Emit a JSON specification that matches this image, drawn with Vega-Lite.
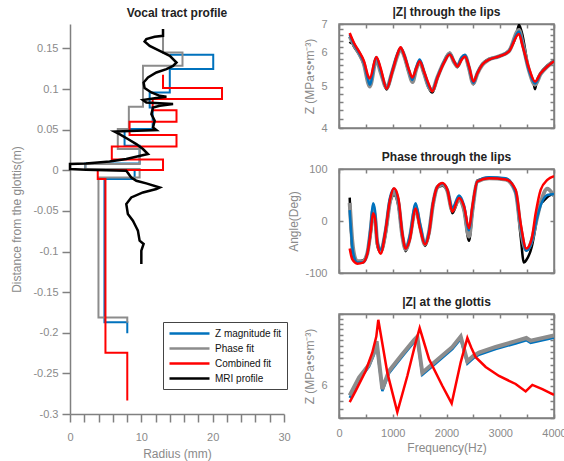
{
  "$schema": "https://vega.github.io/schema/vega-lite/v6.json",
  "padding": {"left": 10, "top": 5, "right": 5, "bottom": 5},
  "background": "white",
  "config": {
    "font": "Liberation Sans",
    "view": {"stroke": null},
    "axis": {"labelFont": "Liberation Sans", "labelFontSize": 11, "labelColor": "#8a8a8a", "titleFont": "Liberation Sans", "titleFontSize": 12, "titleFontWeight": "normal", "titleColor": "#8a8a8a", "domainColor": "#808080", "domainWidth": 1.5, "tickColor": "#808080", "tickWidth": 1.5, "grid": false, "labelOverlap": false, "labelFlush": false},
    "title": {"font": "Liberation Sans", "fontSize": 12, "fontWeight": "bold", "color": "#222222", "offset": 4}
  },
  "datasets": {
    "profile": [
      {"s":"Z magnitude fit","i":0,"r":13.99,"d":0.1421},{"s":"Z magnitude fit","i":1,"r":20.08,"d":0.1421},{"s":"Z magnitude fit","i":2,"r":20.08,"d":0.1245},{"s":"Z magnitude fit","i":3,"r":13.99,"d":0.1245},{"s":"Z magnitude fit","i":4,"r":13.99,"d":0.0957},{"s":"Z magnitude fit","i":5,"r":11.17,"d":0.0957},{"s":"Z magnitude fit","i":6,"r":11.17,"d":0.0772},{"s":"Z magnitude fit","i":7,"r":11.59,"d":0.0772},{"s":"Z magnitude fit","i":8,"r":11.59,"d":0.0507},{"s":"Z magnitude fit","i":9,"r":7.65,"d":0.0507},{"s":"Z magnitude fit","i":10,"r":7.65,"d":0.0301},{"s":"Z magnitude fit","i":11,"r":9.76,"d":0.0301},{"s":"Z magnitude fit","i":12,"r":9.76,"d":0.0084},{"s":"Z magnitude fit","i":13,"r":2.15,"d":0.0084},{"s":"Z magnitude fit","i":14,"r":2.15,"d":0.0015},{"s":"Z magnitude fit","i":15,"r":9.06,"d":0.0015},{"s":"Z magnitude fit","i":16,"r":9.06,"d":-0.0108},{"s":"Z magnitude fit","i":17,"r":4.83,"d":-0.0108},{"s":"Z magnitude fit","i":18,"r":4.83,"d":-0.1872},{"s":"Z magnitude fit","i":19,"r":8.03,"d":-0.1872},{"s":"Z magnitude fit","i":20,"r":8.03,"d":-0.2007},
      {"s":"Phase fit","i":0,"r":13.04,"d":0.1728},{"s":"Phase fit","i":1,"r":13.04,"d":0.1449},{"s":"Phase fit","i":2,"r":15.77,"d":0.1449},{"s":"Phase fit","i":3,"r":15.77,"d":0.1285},{"s":"Phase fit","i":4,"r":10.23,"d":0.1285},{"s":"Phase fit","i":5,"r":10.23,"d":0.0781},{"s":"Phase fit","i":6,"r":8.25,"d":0.0781},{"s":"Phase fit","i":7,"r":8.25,"d":0.0507},{"s":"Phase fit","i":8,"r":6.7,"d":0.0507},{"s":"Phase fit","i":9,"r":6.7,"d":0.0261},{"s":"Phase fit","i":10,"r":9.76,"d":0.0261},{"s":"Phase fit","i":11,"r":9.76,"d":0.0076},{"s":"Phase fit","i":12,"r":2.15,"d":0.0076},{"s":"Phase fit","i":13,"r":2.15,"d":0.0015},{"s":"Phase fit","i":14,"r":9.76,"d":0.0015},{"s":"Phase fit","i":15,"r":9.76,"d":-0.0089},{"s":"Phase fit","i":16,"r":3.99,"d":-0.0089},{"s":"Phase fit","i":17,"r":3.99,"d":-0.1811},{"s":"Phase fit","i":18,"r":8.03,"d":-0.1811},{"s":"Phase fit","i":19,"r":8.03,"d":-0.1876},
      {"s":"Combined fit","i":0,"r":13.04,"d":0.1175},{"s":"Combined fit","i":1,"r":13.04,"d":0.1011},{"s":"Combined fit","i":2,"r":21.31,"d":0.1011},{"s":"Combined fit","i":3,"r":21.31,"d":0.0876},{"s":"Combined fit","i":4,"r":11.59,"d":0.0876},{"s":"Combined fit","i":5,"r":11.59,"d":0.074},{"s":"Combined fit","i":6,"r":14.93,"d":0.074},{"s":"Combined fit","i":7,"r":14.93,"d":0.0597},{"s":"Combined fit","i":8,"r":8.35,"d":0.0597},{"s":"Combined fit","i":9,"r":8.35,"d":0.0433},{"s":"Combined fit","i":10,"r":14.93,"d":0.0433},{"s":"Combined fit","i":11,"r":14.93,"d":0.0293},{"s":"Combined fit","i":12,"r":5.86,"d":0.0293},{"s":"Combined fit","i":13,"r":5.86,"d":0.0133},{"s":"Combined fit","i":14,"r":13.04,"d":0.0133},{"s":"Combined fit","i":15,"r":13.04,"d":0.0002},{"s":"Combined fit","i":16,"r":3.89,"d":0.0002},{"s":"Combined fit","i":17,"r":3.89,"d":-0.0108},{"s":"Combined fit","i":18,"r":4.97,"d":-0.0108},{"s":"Combined fit","i":19,"r":4.97,"d":-0.2245},{"s":"Combined fit","i":20,"r":8.03,"d":-0.2245},{"s":"Combined fit","i":21,"r":8.03,"d":-0.2835},
      {"s":"MRI profile","i":0,"r":13.04,"d":0.1737},{"s":"MRI profile","i":1,"r":13.04,"d":0.1654},{"s":"MRI profile","i":2,"r":11.87,"d":0.1642},{"s":"MRI profile","i":3,"r":10.7,"d":0.1614},{"s":"MRI profile","i":4,"r":10.46,"d":0.1584},{"s":"MRI profile","i":5,"r":11.17,"d":0.1531},{"s":"MRI profile","i":6,"r":12.58,"d":0.147},{"s":"MRI profile","i":7,"r":13.99,"d":0.1408},{"s":"MRI profile","i":8,"r":14.93,"d":0.1326},{"s":"MRI profile","i":9,"r":14.45,"d":0.1285},{"s":"MRI profile","i":10,"r":13.52,"d":0.1245},{"s":"MRI profile","i":11,"r":12.11,"d":0.1203},{"s":"MRI profile","i":12,"r":10.93,"d":0.1141},{"s":"MRI profile","i":13,"r":10.32,"d":0.108},{"s":"MRI profile","i":14,"r":10.46,"d":0.1011},{"s":"MRI profile","i":15,"r":11.41,"d":0.0957},{"s":"MRI profile","i":16,"r":12.58,"d":0.0916},{"s":"MRI profile","i":17,"r":13.52,"d":0.0904},{"s":"MRI profile","i":18,"r":12.11,"d":0.0888},{"s":"MRI profile","i":19,"r":10.23,"d":0.0863},{"s":"MRI profile","i":20,"r":10.7,"d":0.0834},{"s":"MRI profile","i":21,"r":14.45,"d":0.0814},{"s":"MRI profile","i":22,"r":12.58,"d":0.0793},{"s":"MRI profile","i":23,"r":11.64,"d":0.0772},{"s":"MRI profile","i":24,"r":11.41,"d":0.0691},{"s":"MRI profile","i":25,"r":11.87,"d":0.0609},{"s":"MRI profile","i":26,"r":11.64,"d":0.0526},{"s":"MRI profile","i":27,"r":12.11,"d":0.0494},{"s":"MRI profile","i":28,"r":6.24,"d":0.0477},{"s":"MRI profile","i":29,"r":6.94,"d":0.0445},{"s":"MRI profile","i":30,"r":8.11,"d":0.0384},{"s":"MRI profile","i":31,"r":9.3,"d":0.0322},{"s":"MRI profile","i":32,"r":10.23,"d":0.0261},{"s":"MRI profile","i":33,"r":10.93,"d":0.0199},{"s":"MRI profile","i":34,"r":7.89,"d":0.0138},{"s":"MRI profile","i":35,"r":5.54,"d":0.0108},{"s":"MRI profile","i":36,"r":2.25,"d":0.0084},{"s":"MRI profile","i":37,"r":0.0,"d":0.0076},{"s":"MRI profile","i":38,"r":0.0,"d":0.0015},{"s":"MRI profile","i":39,"r":2.25,"d":0.0006},{"s":"MRI profile","i":40,"r":7.89,"d":-0.0006},{"s":"MRI profile","i":41,"r":8.59,"d":-0.0089},{"s":"MRI profile","i":42,"r":9.3,"d":-0.0129},{"s":"MRI profile","i":43,"r":10.7,"d":-0.0162},{"s":"MRI profile","i":44,"r":12.58,"d":-0.0212},{"s":"MRI profile","i":45,"r":12.11,"d":-0.0231},{"s":"MRI profile","i":46,"r":10.23,"d":-0.0273},{"s":"MRI profile","i":47,"r":8.59,"d":-0.0335},{"s":"MRI profile","i":48,"r":7.89,"d":-0.0416},{"s":"MRI profile","i":49,"r":8.11,"d":-0.0539},{"s":"MRI profile","i":50,"r":8.82,"d":-0.0621},{"s":"MRI profile","i":51,"r":9.3,"d":-0.0704},{"s":"MRI profile","i":52,"r":9.52,"d":-0.0744},{"s":"MRI profile","i":53,"r":9.76,"d":-0.0867},{"s":"MRI profile","i":54,"r":10.32,"d":-0.0908},{"s":"MRI profile","i":55,"r":10.0,"d":-0.099},{"s":"MRI profile","i":56,"r":10.0,"d":-0.1154}
    ],
    "lips": [
      {"s":"C","f":199,"z":6.67},{"s":"C","f":279,"z":6.32},{"s":"C","f":372,"z":6.04},{"s":"C","f":465,"z":5.73},{"s":"C","f":546,"z":5.28},{"s":"C","f":571,"z":5.22},{"s":"C","f":695,"z":5.86},{"s":"C","f":775,"z":5.52},{"s":"C","f":887,"z":4.94},{"s":"C","f":992,"z":5.42},{"s":"C","f":1085,"z":5.94},{"s":"C","f":1147,"z":6.18},{"s":"C","f":1209,"z":5.94},{"s":"C","f":1302,"z":5.47},{"s":"C","f":1364,"z":5.25},{"s":"C","f":1439,"z":5.52},{"s":"C","f":1501,"z":5.73},{"s":"C","f":1581,"z":5.42},{"s":"C","f":1674,"z":5.05},{"s":"C","f":1736,"z":4.87},{"s":"C","f":1829,"z":5.23},{"s":"C","f":1953,"z":5.68},{"s":"C","f":2059,"z":5.94},{"s":"C","f":2140,"z":5.73},{"s":"C","f":2202,"z":5.57},{"s":"C","f":2282,"z":5.78},{"s":"C","f":2344,"z":5.88},{"s":"C","f":2419,"z":5.57},{"s":"C","f":2499,"z":5.14},{"s":"C","f":2574,"z":5.37},{"s":"C","f":2667,"z":5.63},{"s":"C","f":2791,"z":5.78},{"s":"C","f":2977,"z":5.88},{"s":"C","f":3163,"z":6.04},{"s":"C","f":3349,"z":6.63},{"s":"C","f":3411,"z":6.25},{"s":"C","f":3535,"z":5.52},{"s":"C","f":3647,"z":5.14},{"s":"C","f":3752,"z":5.37},{"s":"C","f":3876,"z":5.57},{"s":"C","f":4000,"z":5.73},
      {"s":"Z","f":199,"z":6.62},{"s":"Z","f":279,"z":6.28},{"s":"Z","f":372,"z":6.0},{"s":"Z","f":465,"z":5.68},{"s":"Z","f":546,"z":5.15},{"s":"Z","f":571,"z":5.05},{"s":"Z","f":695,"z":5.85},{"s":"Z","f":775,"z":5.45},{"s":"Z","f":887,"z":4.96},{"s":"Z","f":992,"z":5.45},{"s":"Z","f":1085,"z":5.95},{"s":"Z","f":1147,"z":6.16},{"s":"Z","f":1209,"z":5.95},{"s":"Z","f":1302,"z":5.45},{"s":"Z","f":1364,"z":5.18},{"s":"Z","f":1439,"z":5.55},{"s":"Z","f":1501,"z":5.78},{"s":"Z","f":1581,"z":5.42},{"s":"Z","f":1674,"z":5.0},{"s":"Z","f":1736,"z":4.9},{"s":"Z","f":1829,"z":5.25},{"s":"Z","f":1953,"z":5.7},{"s":"Z","f":2059,"z":5.96},{"s":"Z","f":2140,"z":5.72},{"s":"Z","f":2202,"z":5.6},{"s":"Z","f":2282,"z":5.85},{"s":"Z","f":2344,"z":5.93},{"s":"Z","f":2419,"z":5.55},{"s":"Z","f":2499,"z":5.1},{"s":"Z","f":2574,"z":5.38},{"s":"Z","f":2667,"z":5.63},{"s":"Z","f":2791,"z":5.78},{"s":"Z","f":2977,"z":5.88},{"s":"Z","f":3163,"z":6.05},{"s":"Z","f":3349,"z":6.72},{"s":"Z","f":3411,"z":6.3},{"s":"Z","f":3535,"z":5.45},{"s":"Z","f":3647,"z":5.08},{"s":"Z","f":3752,"z":5.36},{"s":"Z","f":3876,"z":5.57},{"s":"Z","f":4000,"z":5.73},
      {"s":"P","f":199,"z":6.55},{"s":"P","f":279,"z":6.25},{"s":"P","f":372,"z":5.98},{"s":"P","f":465,"z":5.64},{"s":"P","f":546,"z":5.08},{"s":"P","f":571,"z":5.0},{"s":"P","f":695,"z":5.78},{"s":"P","f":775,"z":5.4},{"s":"P","f":887,"z":4.97},{"s":"P","f":992,"z":5.42},{"s":"P","f":1085,"z":5.9},{"s":"P","f":1147,"z":6.13},{"s":"P","f":1209,"z":5.92},{"s":"P","f":1302,"z":5.4},{"s":"P","f":1364,"z":5.12},{"s":"P","f":1439,"z":5.5},{"s":"P","f":1501,"z":5.72},{"s":"P","f":1581,"z":5.38},{"s":"P","f":1674,"z":4.98},{"s":"P","f":1736,"z":4.9},{"s":"P","f":1829,"z":5.25},{"s":"P","f":1953,"z":5.7},{"s":"P","f":2059,"z":5.97},{"s":"P","f":2140,"z":5.7},{"s":"P","f":2202,"z":5.58},{"s":"P","f":2282,"z":5.82},{"s":"P","f":2344,"z":5.9},{"s":"P","f":2419,"z":5.52},{"s":"P","f":2499,"z":5.08},{"s":"P","f":2574,"z":5.36},{"s":"P","f":2667,"z":5.62},{"s":"P","f":2791,"z":5.78},{"s":"P","f":2977,"z":5.88},{"s":"P","f":3163,"z":6.05},{"s":"P","f":3349,"z":6.78},{"s":"P","f":3411,"z":6.35},{"s":"P","f":3535,"z":5.45},{"s":"P","f":3647,"z":5.05},{"s":"P","f":3752,"z":5.35},{"s":"P","f":3876,"z":5.57},{"s":"P","f":4000,"z":5.73},
      {"s":"M","f":199,"z":6.3},{"s":"M","f":230,"z":6.35},{"s":"M","f":279,"z":6.2},{"s":"M","f":372,"z":5.95},{"s":"M","f":465,"z":5.62},{"s":"M","f":546,"z":5.1},{"s":"M","f":571,"z":5.02},{"s":"M","f":695,"z":5.8},{"s":"M","f":775,"z":5.42},{"s":"M","f":887,"z":4.92},{"s":"M","f":992,"z":5.4},{"s":"M","f":1085,"z":5.92},{"s":"M","f":1147,"z":6.12},{"s":"M","f":1209,"z":5.9},{"s":"M","f":1302,"z":5.38},{"s":"M","f":1364,"z":5.15},{"s":"M","f":1439,"z":5.5},{"s":"M","f":1501,"z":5.7},{"s":"M","f":1581,"z":5.36},{"s":"M","f":1674,"z":4.95},{"s":"M","f":1736,"z":4.84},{"s":"M","f":1829,"z":5.22},{"s":"M","f":1953,"z":5.72},{"s":"M","f":2059,"z":6.0},{"s":"M","f":2140,"z":5.72},{"s":"M","f":2202,"z":5.55},{"s":"M","f":2282,"z":5.8},{"s":"M","f":2344,"z":5.88},{"s":"M","f":2419,"z":5.5},{"s":"M","f":2499,"z":5.06},{"s":"M","f":2574,"z":5.38},{"s":"M","f":2667,"z":5.65},{"s":"M","f":2791,"z":5.8},{"s":"M","f":2977,"z":5.88},{"s":"M","f":3163,"z":6.08},{"s":"M","f":3300,"z":6.6},{"s":"M","f":3349,"z":6.97},{"s":"M","f":3400,"z":6.7},{"s":"M","f":3535,"z":5.45},{"s":"M","f":3620,"z":5.1},{"s":"M","f":3647,"z":4.93},{"s":"M","f":3680,"z":5.15},{"s":"M","f":3752,"z":5.38},{"s":"M","f":3876,"z":5.6},{"s":"M","f":4000,"z":5.75}
    ],
    "phase": [
      {"s":"C","f":199,"p":-53},{"s":"C","f":248,"p":-74},{"s":"C","f":341,"p":-82},{"s":"C","f":446,"p":-80},{"s":"C","f":527,"p":-63},{"s":"C","f":589,"p":-21},{"s":"C","f":633,"p":15},{"s":"C","f":670,"p":5},{"s":"C","f":713,"p":-43},{"s":"C","f":775,"p":-63},{"s":"C","f":868,"p":-17},{"s":"C","f":949,"p":41},{"s":"C","f":1023,"p":63},{"s":"C","f":1104,"p":44},{"s":"C","f":1178,"p":-24},{"s":"C","f":1240,"p":-53},{"s":"C","f":1315,"p":-37},{"s":"C","f":1426,"p":24},{"s":"C","f":1507,"p":-14},{"s":"C","f":1600,"p":-45},{"s":"C","f":1674,"p":-24},{"s":"C","f":1749,"p":34},{"s":"C","f":1829,"p":66},{"s":"C","f":1922,"p":73},{"s":"C","f":2016,"p":60},{"s":"C","f":2109,"p":18},{"s":"C","f":2233,"p":44},{"s":"C","f":2326,"p":28},{"s":"C","f":2419,"p":-14},{"s":"C","f":2481,"p":28},{"s":"C","f":2574,"p":76},{"s":"C","f":2791,"p":82},{"s":"C","f":3101,"p":80},{"s":"C","f":3287,"p":60},{"s":"C","f":3380,"p":-5},{"s":"C","f":3485,"p":-53},{"s":"C","f":3585,"p":-34},{"s":"C","f":3659,"p":15},{"s":"C","f":3752,"p":60},{"s":"C","f":3876,"p":79},{"s":"C","f":4000,"p":86},
      {"s":"Z","f":199,"p":21},{"s":"Z","f":248,"p":-50},{"s":"Z","f":300,"p":-75},{"s":"Z","f":341,"p":-80},{"s":"Z","f":446,"p":-80},{"s":"Z","f":527,"p":-62},{"s":"Z","f":589,"p":-10},{"s":"Z","f":633,"p":34},{"s":"Z","f":670,"p":20},{"s":"Z","f":713,"p":-40},{"s":"Z","f":775,"p":-55},{"s":"Z","f":868,"p":-15},{"s":"Z","f":949,"p":45},{"s":"Z","f":1023,"p":62},{"s":"Z","f":1104,"p":40},{"s":"Z","f":1178,"p":-25},{"s":"Z","f":1240,"p":-53},{"s":"Z","f":1315,"p":-30},{"s":"Z","f":1426,"p":34},{"s":"Z","f":1507,"p":-5},{"s":"Z","f":1600,"p":-43},{"s":"Z","f":1674,"p":-20},{"s":"Z","f":1749,"p":35},{"s":"Z","f":1829,"p":66},{"s":"Z","f":1922,"p":72},{"s":"Z","f":2016,"p":60},{"s":"Z","f":2109,"p":25},{"s":"Z","f":2233,"p":49},{"s":"Z","f":2326,"p":30},{"s":"Z","f":2419,"p":-18},{"s":"Z","f":2481,"p":25},{"s":"Z","f":2574,"p":76},{"s":"Z","f":2791,"p":84},{"s":"Z","f":3101,"p":82},{"s":"Z","f":3287,"p":55},{"s":"Z","f":3380,"p":-10},{"s":"Z","f":3485,"p":-57},{"s":"Z","f":3585,"p":-40},{"s":"Z","f":3659,"p":-5},{"s":"Z","f":3752,"p":30},{"s":"Z","f":3876,"p":50},{"s":"Z","f":4000,"p":52},
      {"s":"P","f":199,"p":35},{"s":"P","f":248,"p":-40},{"s":"P","f":300,"p":-72},{"s":"P","f":341,"p":-78},{"s":"P","f":446,"p":-78},{"s":"P","f":527,"p":-62},{"s":"P","f":589,"p":-18},{"s":"P","f":633,"p":20},{"s":"P","f":670,"p":8},{"s":"P","f":713,"p":-42},{"s":"P","f":775,"p":-58},{"s":"P","f":868,"p":-20},{"s":"P","f":949,"p":38},{"s":"P","f":1023,"p":55},{"s":"P","f":1104,"p":35},{"s":"P","f":1178,"p":-28},{"s":"P","f":1240,"p":-55},{"s":"P","f":1315,"p":-33},{"s":"P","f":1426,"p":25},{"s":"P","f":1507,"p":-10},{"s":"P","f":1600,"p":-45},{"s":"P","f":1674,"p":-22},{"s":"P","f":1749,"p":32},{"s":"P","f":1829,"p":65},{"s":"P","f":1922,"p":70},{"s":"P","f":2016,"p":58},{"s":"P","f":2109,"p":20},{"s":"P","f":2233,"p":42},{"s":"P","f":2326,"p":22},{"s":"P","f":2419,"p":-30},{"s":"P","f":2481,"p":20},{"s":"P","f":2574,"p":76},{"s":"P","f":2791,"p":82},{"s":"P","f":3101,"p":80},{"s":"P","f":3287,"p":55},{"s":"P","f":3380,"p":-15},{"s":"P","f":3485,"p":-56},{"s":"P","f":3585,"p":-38},{"s":"P","f":3659,"p":-5},{"s":"P","f":3752,"p":35},{"s":"P","f":3876,"p":62},{"s":"P","f":4000,"p":48},
      {"s":"M","f":199,"p":45},{"s":"M","f":225,"p":-20},{"s":"M","f":260,"p":-70},{"s":"M","f":341,"p":-77},{"s":"M","f":446,"p":-76},{"s":"M","f":527,"p":-62},{"s":"M","f":589,"p":-25},{"s":"M","f":633,"p":10},{"s":"M","f":670,"p":0},{"s":"M","f":713,"p":-48},{"s":"M","f":775,"p":-60},{"s":"M","f":868,"p":-25},{"s":"M","f":949,"p":35},{"s":"M","f":1023,"p":50},{"s":"M","f":1104,"p":30},{"s":"M","f":1178,"p":-30},{"s":"M","f":1240,"p":-58},{"s":"M","f":1315,"p":-35},{"s":"M","f":1426,"p":20},{"s":"M","f":1507,"p":-12},{"s":"M","f":1600,"p":-48},{"s":"M","f":1674,"p":-25},{"s":"M","f":1749,"p":30},{"s":"M","f":1829,"p":64},{"s":"M","f":1922,"p":68},{"s":"M","f":2016,"p":58},{"s":"M","f":2109,"p":15},{"s":"M","f":2233,"p":40},{"s":"M","f":2326,"p":20},{"s":"M","f":2419,"p":-38},{"s":"M","f":2481,"p":15},{"s":"M","f":2574,"p":78},{"s":"M","f":2791,"p":82},{"s":"M","f":3101,"p":80},{"s":"M","f":3287,"p":55},{"s":"M","f":3380,"p":-30},{"s":"M","f":3440,"p":-80},{"s":"M","f":3485,"p":-75},{"s":"M","f":3585,"p":-50},{"s":"M","f":3659,"p":-10},{"s":"M","f":3720,"p":30},{"s":"M","f":3800,"p":38},{"s":"M","f":3900,"p":48},{"s":"M","f":4000,"p":52}
    ],
    "glottis": [
      {"s":"C","f":199,"z":5.47},{"s":"C","f":310,"z":5.83},{"s":"C","f":496,"z":6.52},{"s":"C","f":620,"z":7.24},{"s":"C","f":694,"z":7.92},{"s":"C","f":731,"z":8.71},{"s":"C","f":899,"z":6.46},{"s":"C","f":1085,"z":5.17},{"s":"C","f":1271,"z":6.34},{"s":"C","f":1420,"z":7.6},{"s":"C","f":1501,"z":8.31},{"s":"C","f":1674,"z":6.98},{"s":"C","f":1922,"z":6.0},{"s":"C","f":2096,"z":5.43},{"s":"C","f":2264,"z":6.85},{"s":"C","f":2388,"z":7.86},{"s":"C","f":2460,"z":7.45},{"s":"C","f":2543,"z":7.05},{"s":"C","f":2729,"z":6.67},{"s":"C","f":2977,"z":6.34},{"s":"C","f":3287,"z":6.06},{"s":"C","f":3473,"z":5.81},{"s":"C","f":3597,"z":6.03},{"s":"C","f":3783,"z":5.89},{"s":"C","f":4000,"z":5.7},
      {"s":"P","f":199,"z":5.68},{"s":"P","f":372,"z":6.28},{"s":"P","f":558,"z":6.76},{"s":"P","f":651,"z":7.24},{"s":"P","f":700,"z":7.72},{"s":"P","f":806,"z":5.89},{"s":"P","f":930,"z":6.52},{"s":"P","f":1178,"z":7.17},{"s":"P","f":1395,"z":7.77},{"s":"P","f":1457,"z":7.92},{"s":"P","f":1550,"z":6.46},{"s":"P","f":1798,"z":6.89},{"s":"P","f":2109,"z":7.47},{"s":"P","f":2264,"z":7.92},{"s":"P","f":2388,"z":6.89},{"s":"P","f":2500,"z":7.1},{"s":"P","f":2605,"z":7.24},{"s":"P","f":2915,"z":7.47},{"s":"P","f":3287,"z":7.72},{"s":"P","f":3485,"z":7.86},{"s":"P","f":3566,"z":7.74},{"s":"P","f":4000,"z":7.97},
      {"s":"Z","f":199,"z":5.6},{"s":"Z","f":372,"z":6.2},{"s":"Z","f":558,"z":6.68},{"s":"Z","f":651,"z":7.15},{"s":"Z","f":700,"z":7.62},{"s":"Z","f":806,"z":5.82},{"s":"Z","f":930,"z":6.44},{"s":"Z","f":1178,"z":7.08},{"s":"Z","f":1395,"z":7.67},{"s":"Z","f":1457,"z":7.82},{"s":"Z","f":1550,"z":6.38},{"s":"Z","f":1798,"z":6.8},{"s":"Z","f":2109,"z":7.38},{"s":"Z","f":2264,"z":7.82},{"s":"Z","f":2388,"z":6.8},{"s":"Z","f":2500,"z":7.01},{"s":"Z","f":2605,"z":7.15},{"s":"Z","f":2915,"z":7.38},{"s":"Z","f":3287,"z":7.62},{"s":"Z","f":3485,"z":7.76},{"s":"Z","f":3566,"z":7.64},{"s":"Z","f":4000,"z":7.87}
    ]
  },
  "bounds": "flush",
  "spacing": 55,
  "hconcat": [
    {
      "title": "Vocal tract profile",
      "width": 214,
      "height": 390,
      "data": {"name": "profile"},
      "encoding": {
        "x": {"field": "r", "type": "quantitative", "scale": {"domain": [0, 30], "nice": false, "zero": false}, "axis": {"title": "Radius (mm)", "values": [0,2,4,6,8,10,12,14,16,18,20,22,24,26,28,30], "labelExpr": "datum.value % 10 === 0 ? datum.label : ''", "tickSize": 8, "labelPadding": 9, "titlePadding": 6}},
        "y": {"field": "d", "type": "quantitative", "scale": {"domain": [-0.3, 0.18], "nice": false, "zero": false}, "axis": {"title": "Distance from the glottis(m)", "values": [-0.3,-0.25,-0.2,-0.15,-0.1,-0.05,0,0.05,0.1,0.15], "labelExpr": "'' + datum.value", "tickSize": 8, "labelPadding": 4, "titlePadding": 9}},
        "order": {"field": "i", "type": "quantitative"},
        "color": {"field": "s", "type": "nominal", "scale": {"domain": ["Z magnitude fit", "Phase fit", "Combined fit", "MRI profile"], "range": ["#0072BD", "#8c8c8c", "#FF0000", "#000000"]},
          "legend": {"orient": "none", "legendX": 93, "legendY": 298, "title": null, "direction": "vertical", "symbolType": "M-4,0H4", "symbolSize": 100, "symbolStrokeWidth": 2.5, "symbolOffset": 15, "labelFont": "Liberation Sans", "labelFontSize": 10, "labelColor": "#111111", "strokeColor": "#444444", "fillColor": "white", "padding": 5, "rowPadding": 3, "labelOffset": 19}}
      },
      "layer": [
        {"transform": [{"filter": "datum.s === 'Z magnitude fit'"}], "mark": {"type": "line", "strokeWidth": 2}},
        {"transform": [{"filter": "datum.s === 'Phase fit'"}], "mark": {"type": "line", "strokeWidth": 2}},
        {"transform": [{"filter": "datum.s === 'Combined fit'"}], "mark": {"type": "line", "strokeWidth": 2}},
        {"transform": [{"filter": "datum.s === 'MRI profile'"}], "mark": {"type": "line", "strokeWidth": 2.5}}
      ]
    },
    {
      "bounds": "flush",
      "spacing": 41,
      "vconcat": [
        {
          "title": {"text": "|Z| through the lips", "offset": -1},
          "width": 215,
          "height": 104,
          "view": {"stroke": "#808080", "strokeWidth": 1.5},
          "data": {"name": "lips"},
          "encoding": {
            "x": {"field": "f", "type": "quantitative", "scale": {"domain": [0, 4000], "nice": false, "zero": false}, "axis": null},
            "y": {"field": "z", "type": "quantitative", "scale": {"type": "log", "domain": [4, 7], "nice": false}, "axis": null}
          },
          "layer": [
            {"transform": [{"filter": "datum.s === 'M'"}], "mark": {"type": "line", "color": "#000000", "strokeWidth": 2.5, "interpolate": "monotone", "clip": true},
             "encoding": {
               "x": {"field": "f", "type": "quantitative", "scale": {"domain": [0, 4000], "nice": false, "zero": false}, "axis": {"orient": "bottom", "title": null, "values": [0,500,1000,1500,2000,2500,3000,3500,4000], "labels": false, "tickSize": -4}},
               "y": {"field": "z", "type": "quantitative", "scale": {"type": "log", "domain": [4, 7], "nice": false}, "axis": {"orient": "left", "title": "Z (MPa•s•m⁻³)", "values": [4,4.2,4.4,4.6,4.8,5,5.2,5.4,5.6,5.8,6,6.2,6.4,6.6,6.8,7], "labelExpr": "datum.value % 1 === 0 ? '' + datum.value : ''", "tickSize": -4, "labelPadding": 16, "titlePadding": 4}}
             }},
            {"transform": [{"filter": "datum.s === 'P'"}], "mark": {"type": "line", "color": "#8c8c8c", "strokeWidth": 4, "interpolate": "monotone", "clip": true}},
            {"transform": [{"filter": "datum.s === 'Z'"}], "mark": {"type": "line", "color": "#0072BD", "strokeWidth": 2.5, "interpolate": "monotone", "clip": true}},
            {"transform": [{"filter": "datum.s === 'C'"}], "mark": {"type": "line", "color": "#FF0000", "strokeWidth": 2.5, "interpolate": "monotone", "clip": true},
             "encoding": {
               "x": {"field": "f", "type": "quantitative", "scale": {"domain": [0, 4000], "nice": false, "zero": false}, "axis": {"orient": "top", "title": null, "values": [0,500,1000,1500,2000,2500,3000,3500,4000], "labels": false, "tickSize": -4}},
               "y": {"field": "z", "type": "quantitative", "scale": {"type": "log", "domain": [4, 7], "nice": false}, "axis": {"orient": "right", "title": null, "values": [4,4.2,4.4,4.6,4.8,5,5.2,5.4,5.6,5.8,6,6.2,6.4,6.6,6.8,7], "labels": false, "tickSize": -4}}
             }}
          ],
          "resolve": {"axis": {"x": "independent", "y": "independent"}}
        },
        {
          "title": {"text": "Phase through the lips", "offset": -1},
          "width": 215,
          "height": 104,
          "view": {"stroke": "#808080", "strokeWidth": 1.5},
          "data": {"name": "phase"},
          "encoding": {
            "x": {"field": "f", "type": "quantitative", "scale": {"domain": [0, 4000], "nice": false, "zero": false}, "axis": null},
            "y": {"field": "p", "type": "quantitative", "scale": {"domain": [-100, 100], "nice": false, "zero": false}, "axis": null}
          },
          "layer": [
            {"transform": [{"filter": "datum.s === 'M'"}], "mark": {"type": "line", "color": "#000000", "strokeWidth": 2.5, "interpolate": "monotone", "clip": true},
             "encoding": {
               "x": {"field": "f", "type": "quantitative", "scale": {"domain": [0, 4000], "nice": false, "zero": false}, "axis": {"orient": "bottom", "title": null, "values": [0,500,1000,1500,2000,2500,3000,3500,4000], "labels": false, "tickSize": -4}},
               "y": {"field": "p", "type": "quantitative", "scale": {"domain": [-100, 100], "nice": false, "zero": false}, "axis": {"orient": "left", "title": "Angle(Deg)", "values": [-100, 0, 100], "labelExpr": "'' + datum.value", "tickSize": -4, "labelPadding": 16, "titlePadding": 4}}
             }},
            {"transform": [{"filter": "datum.s === 'P'"}], "mark": {"type": "line", "color": "#8c8c8c", "strokeWidth": 4, "interpolate": "monotone", "clip": true}},
            {"transform": [{"filter": "datum.s === 'Z'"}], "mark": {"type": "line", "color": "#0072BD", "strokeWidth": 2.5, "interpolate": "monotone", "clip": true}},
            {"transform": [{"filter": "datum.s === 'C'"}], "mark": {"type": "line", "color": "#FF0000", "strokeWidth": 2.5, "interpolate": "monotone", "clip": true},
             "encoding": {
               "x": {"field": "f", "type": "quantitative", "scale": {"domain": [0, 4000], "nice": false, "zero": false}, "axis": {"orient": "top", "title": null, "values": [0,500,1000,1500,2000,2500,3000,3500,4000], "labels": false, "tickSize": -4}},
               "y": {"field": "p", "type": "quantitative", "scale": {"domain": [-100, 100], "nice": false, "zero": false}, "axis": {"orient": "right", "title": null, "values": [-100, 0, 100], "labels": false, "tickSize": -4}}
             }}
          ],
          "resolve": {"axis": {"x": "independent", "y": "independent"}}
        },
        {
          "title": {"text": "|Z| at the glottis", "offset": -1},
          "width": 215,
          "height": 104,
          "view": {"stroke": "#808080", "strokeWidth": 1.5},
          "data": {"name": "glottis"},
          "encoding": {
            "x": {"field": "f", "type": "quantitative", "scale": {"domain": [0, 4000], "nice": false, "zero": false}, "axis": null},
            "y": {"field": "z", "type": "quantitative", "scale": {"type": "log", "domain": [5, 9], "nice": false}, "axis": null}
          },
          "layer": [
            {"transform": [{"filter": "datum.s === 'Z'"}], "mark": {"type": "line", "color": "#0072BD", "strokeWidth": 2.5, "clip": true},
             "encoding": {
               "x": {"field": "f", "type": "quantitative", "scale": {"domain": [0, 4000], "nice": false, "zero": false}, "axis": {"orient": "bottom", "title": "Frequency(Hz)", "values": [0,500,1000,1500,2000,2500,3000,3500,4000], "labelExpr": "datum.value % 1000 === 0 ? '' + datum.value : ''", "tickSize": -4, "labelPadding": 13, "titlePadding": 4}},
               "y": {"field": "z", "type": "quantitative", "scale": {"type": "log", "domain": [5, 9], "nice": false}, "axis": {"orient": "left", "title": "Z (MPa•s•m⁻³)", "values": [5,5.25,5.5,5.75,6,6.25,6.5,6.75,7,7.25,7.5,7.75,8,8.25,8.5,8.75,9], "labelExpr": "datum.value === 6 ? '6' : ''", "tickSize": -4, "labelPadding": 16, "titlePadding": 4}}
             }},
            {"transform": [{"filter": "datum.s === 'P'"}], "mark": {"type": "line", "color": "#8c8c8c", "strokeWidth": 4, "clip": true}},
            {"transform": [{"filter": "datum.s === 'C'"}], "mark": {"type": "line", "color": "#FF0000", "strokeWidth": 2.5, "clip": true},
             "encoding": {
               "x": {"field": "f", "type": "quantitative", "scale": {"domain": [0, 4000], "nice": false, "zero": false}, "axis": {"orient": "top", "title": null, "values": [0,500,1000,1500,2000,2500,3000,3500,4000], "labels": false, "tickSize": -4}},
               "y": {"field": "z", "type": "quantitative", "scale": {"type": "log", "domain": [5, 9], "nice": false}, "axis": {"orient": "right", "title": null, "values": [5,5.25,5.5,5.75,6,6.25,6.5,6.75,7,7.25,7.5,7.75,8,8.25,8.5,8.75,9], "labels": false, "tickSize": -4}}
             }}
          ],
          "resolve": {"axis": {"x": "independent", "y": "independent"}}
        }
      ]
    }
  ]
}
